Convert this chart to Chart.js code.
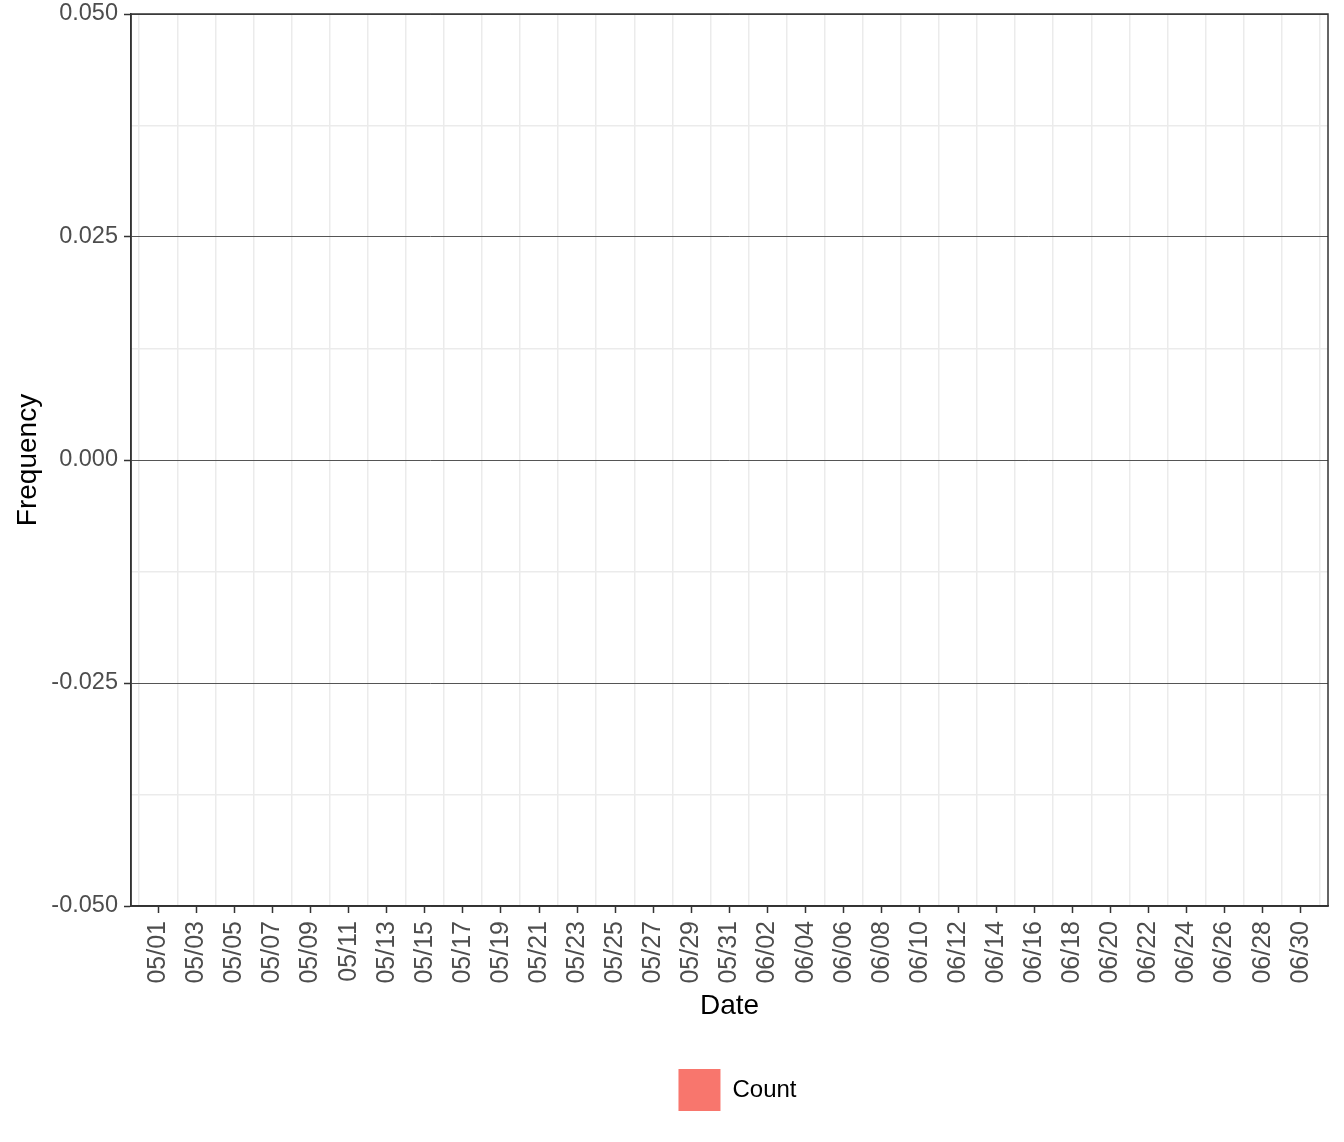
<!DOCTYPE html>
<html><head><meta charset="utf-8">
<script src="https://cdn.jsdelivr.net/npm/chart.js@4.4.1/dist/chart.umd.min.js"></script>
<style>html,body{margin:0;padding:0;background:#fff}#wrap{width:1344px;height:1142px;position:relative}</style>
</head><body><div id="wrap"><canvas id="c"></canvas></div>
<script>
const dates = ["05/01","05/02","05/03","05/04","05/05","05/06","05/07","05/08","05/09","05/10",
"05/11","05/12","05/13","05/14","05/15","05/16","05/17","05/18","05/19","05/20",
"05/21","05/22","05/23","05/24","05/25","05/26","05/27","05/28","05/29","05/30","05/31",
"06/01","06/02","06/03","06/04","06/05","06/06","06/07","06/08","06/09","06/10",
"06/11","06/12","06/13","06/14","06/15","06/16","06/17","06/18","06/19","06/20",
"06/21","06/22","06/23","06/24","06/25","06/26","06/27","06/28","06/29","06/30"];
const counts = [0,0,0,0,0,0,0,0,0,0, 0,0,0,0,0,0,0,0,0,0, 0,0,0,0,0,0,0,0,0,0,0,
0,0,0,0,0,0,0,0,0,0, 0,0,0,0,0,0,0,0,0,0, 0,0,0,0,0,0,0,0,0,0];
const xTickLabels = ["05/01","05/03","05/05","05/07","05/09","05/11","05/13","05/15","05/17","05/19",
"05/21","05/23","05/25","05/27","05/29","05/31","06/02","06/04","06/06","06/08","06/10",
"06/12","06/14","06/16","06/18","06/20","06/22","06/24","06/26","06/28","06/30"];
const xGridDays = [-1,1,3,5,7,9,11,13,15,17,19,21,23,25,27,29,31,33,35,37,39,41,43,45,47,49,51,53,55,57,59,61];
const yTicks = [-0.05,-0.025,0,0.025,0.05];
const yMinorGrid = [-0.0375,-0.0125,0.0125,0.0375];
const seriesName = "Count";

const xTickDays = xTickLabels.map(l => dates.indexOf(l));

Chart.defaults.font.family = "'Liberation Sans', Arial, sans-serif";

const frame = {id:'frame', afterDraw(chart){
  const {ctx, chartArea:a} = chart;
  ctx.save(); ctx.strokeStyle='#333333'; ctx.lineWidth=1.5;
  ctx.strokeRect(a.left, a.top, a.right-a.left, a.bottom-a.top);
  ctx.restore();
}};
const legendShift = {id:'legendShift', afterLayout(chart){
  if (chart.legend) { chart.legend.left += 8; chart.legend.right += 8; }
}};

new Chart(document.getElementById('c'), {
  type: 'bar',
  data: {
    datasets: [{
      label: seriesName,
      data: counts.map((v,i)=>({x:i, y:v})),
      backgroundColor: '#F8766D',
      borderWidth: 0,
      barPercentage: 0.9, categoryPercentage: 1
    }]
  },
  options: {
    responsive: true, maintainAspectRatio: false, animation: false,
    layout: {padding: {left:0, right:16, top:14, bottom:21}},
    plugins: {
      tooltip: {enabled:false},
      legend: {
        position: 'bottom', fullSize: false,
        labels: {boxWidth:42, boxHeight:42, padding:10, color:'#000000', font:{size:24}}
      }
    },
    scales: {
      xg: {
        type:'linear', position:'bottom', min:-1.43, max:61.43, offset:false,
        afterBuildTicks: s => { s.ticks = xGridDays.map(v=>({value:v})); },
        afterFit: s => { s.height = 0; },
        ticks:{display:false}, border:{display:false},
        grid:{color:'#ebebeb', lineWidth:1.5, drawTicks:false, offset:false}
      },
      yg: {
        type:'linear', position:'left', min:-0.05, max:0.05,
        afterBuildTicks: s => { s.ticks = yMinorGrid.map(v=>({value:v})); },
        afterFit: s => { s.width = 0; },
        ticks:{display:false}, border:{display:false},
        grid:{color:'#ebebeb', lineWidth:1.5, drawTicks:false}
      },
      x: {
        type:'linear', position:'bottom', min:-1.43, max:61.43, offset:false,
        afterBuildTicks: s => { s.ticks = xTickDays.map(v=>({value:v})); },
        afterFit: s => { s.height = 153; },
        ticks:{ autoSkip:false, maxRotation:90, minRotation:90, padding:8, color:'#4d4d4d',
          font:{size:25}, callback: (v) => dates[v] },
        grid:{offset:false, drawOnChartArea:false, drawTicks:true, tickLength:7, tickColor:'#333333', tickWidth:1.5},
        border:{display:true, color:'#333333', width:1.5},
        title:{display:true, text:'Date', color:'#000000', font:{size:28}, padding:{top:0,bottom:36}}
      },
      y: {
        type:'linear', position:'left', min:-0.05, max:0.05,
        afterBuildTicks: s => { s.ticks = yTicks.map(v=>({value:v})); },
        afterFit: s => { s.width = 131; s.paddingTop = 0; s.paddingBottom = 0; },
        ticks:{ padding:6, color:'#4d4d4d', font:{size:23.5}, callback: v => v.toFixed(3) },
        grid:{color:'#555555', lineWidth:1, drawTicks:true, tickLength:7, tickColor:'#333333', tickWidth:1.5},
        border:{display:true, color:'#333333', width:1.5},
        title:{display:true, text:'Frequency', color:'#000000', font:{size:28}, padding:{top:11,bottom:0}}
      }
    }
  },
  plugins: [frame, legendShift]
});
</script></body></html>
